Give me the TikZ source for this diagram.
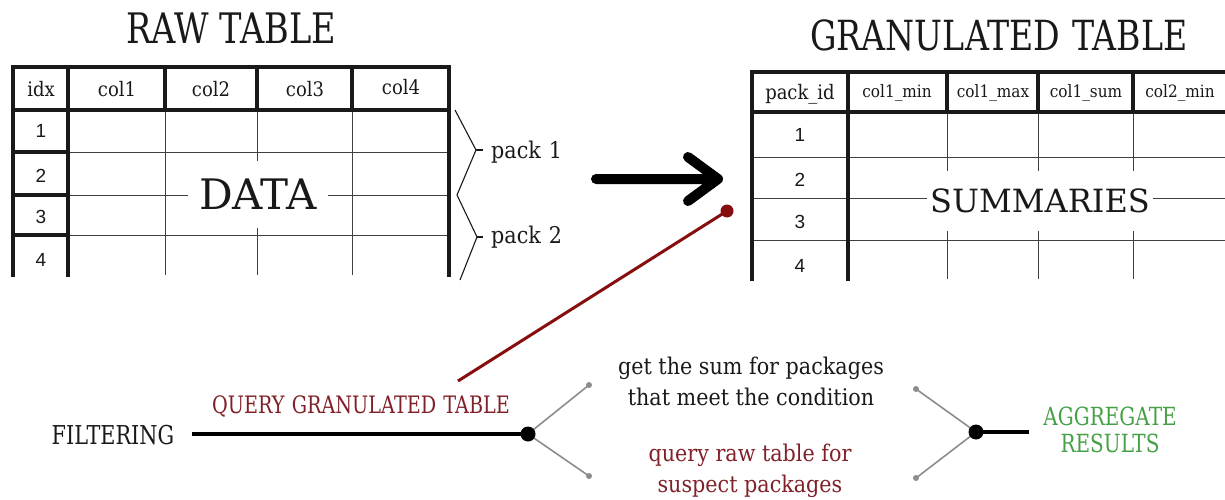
\documentclass[tikz,border=0pt]{standalone}
\usepackage{fontspec}
\setmainfont{DejaVu Serif}
\newfontfamily\bodyfont{DejaVu Serif}[FakeStretch=0.9]
\newfontfamily\capsfont{DejaVu Serif}[FakeStretch=0.8]
\newfontfamily\numfont{Liberation Sans}
\definecolor{qred}{RGB}{128,32,40}
\definecolor{lred}{RGB}{135,14,14}
\definecolor{agreen}{RGB}{70,160,70}
\definecolor{ink}{RGB}{25,25,25}
\definecolor{wire}{RGB}{140,140,140}
\tikzset{
  thickrule/.style={line width=4.2pt, line cap=rect, ink},
  thinrule/.style={line width=1pt, black!75},
  title/.style={font=\capsfont\fontsize{42}{46}\selectfont, inner sep=0pt, text=ink},
  hdr/.style={font=\bodyfont\fontsize{20}{24}\selectfont, anchor=base, inner sep=0pt, text=ink},
  shdr/.style={font=\bodyfont\fontsize{17}{20}\selectfont, anchor=base, inner sep=0pt, text=ink},
  num/.style={font=\numfont\fontsize{19}{21}\selectfont, anchor=base, inner sep=0pt, text=ink},
  body/.style={font=\bodyfont\fontsize{23}{31}\selectfont, align=center, inner sep=0pt, text=ink},
  caps/.style={font=\capsfont\fontsize{26}{27}\selectfont, align=center, inner sep=0pt},
  blank/.style={fill=white, inner sep=0pt, text=ink},
  brace/.style={line width=1.1pt, ink},
  wirelink/.style={line width=1.6pt, wire},
  enddot/.style={circle, fill=wire, inner sep=0pt, minimum size=6pt},
}
\begin{document}
\begin{tikzpicture}[x=1pt, y=-1pt]
\useasboundingbox (0,0) rectangle (1225,500);

% ---------- raw table ----------
\node[title] (rawtitle) at (231,28) {RAW TABLE};
% thin body grid
\foreach \yy in {152,195,235} \draw[thinrule] (68,\yy) -- (449,\yy);
\foreach \xx in {165,257,352} \draw[thinrule] (\xx,110) -- (\xx,275);
% label blanking the grid behind it
\node[blank, minimum width=140pt, minimum height=67pt,
      font=\fontsize{42}{44}\selectfont] (data) at (258,194) {DATA};
% heavy frame, header and index column
\draw[thickrule] (13,275) -- (13,67) -- (449,67) -- (449,275);
\draw[thickrule] (13,110) -- (449,110);
\draw[thickrule] (68,67) -- (68,275);
\foreach \xx in {165,257,352} \draw[thickrule] (\xx,67) -- (\xx,110);
\foreach \yy in {152,195,235} \draw[thickrule] (13,\yy) -- (68,\yy);
\node[hdr] (hidx) at (41,97) {idx};
\node[hdr] (hc1) at (117,97) {col1};
\node[hdr] (hc2) at (211,97) {col2};
\node[hdr] (hc3) at (305,97) {col3};
\node[hdr] (hc4) at (401,95) {col4};
\node[num] (r1) at (41,137) {1};
\node[num] (r2) at (41,182) {2};
\node[num] (r3) at (41,223) {3};
\node[num] (r4) at (41,266) {4};

% ---------- packs ----------
\coordinate (b1a) at (455,110);
\coordinate (b1t) at (476,150);
\coordinate (b1k) at (483,150);
\coordinate (b12) at (457,195);
\coordinate (b2t) at (477,237);
\coordinate (b2k) at (483,237);
\coordinate (b2b) at (460,280);
\draw[brace] (b1a) -- (b1t) -- (b12) -- (b2t) -- (b2b);
\draw[line width=2pt, ink] (b1t) -- (b1k);
\draw[line width=2pt, ink] (b2t) -- (b2k);
\node[body, anchor=base west] (pack1) at (491,158) {pack\hspace{0.35em}1};
\node[body, anchor=base west] (pack2) at (491,243) {pack\hspace{0.35em}2};

% ---------- transformation arrow ----------
\coordinate (arrs) at (596,179);
\coordinate (arre) at (718,179);
\coordinate (arru) at (688,157);
\coordinate (arrd) at (688,201);
\draw[line width=10pt, line cap=round, line join=round, black]
  (arrs) -- (arre) (arru) -- (arre) -- (arrd);

% ---------- granulated table ----------
\node[title, font=\capsfont\fontsize{41.5}{46}\selectfont] (grantitle) at (999,35) {GRANULATED\hspace{0.3em}TABLE};
\foreach \yy in {157,198,240} \draw[thinrule] (752,\yy) -- (1226,\yy);
\foreach \xx in {947,1038,1133} \draw[thinrule] (\xx,112) -- (\xx,279);
\node[blank, minimum width=226pt, minimum height=60pt,
      font=\fontsize{32}{34}\selectfont] (summ) at (1040,201) {SUMMARIES};
\draw[thickrule] (752,279) -- (752,72) -- (1228,72);
\draw[thickrule] (752,112) -- (1228,112);
\draw[thickrule] (848,72) -- (848,279);
\foreach \xx in {947,1038,1133} \draw[thickrule] (\xx,72) -- (\xx,112);
\node[hdr] (hpid) at (800,100) {pack\_id};
\node[shdr] (hmin) at (897,98) {col1\_min};
\node[shdr] (hmax) at (993,98) {col1\_max};
\node[shdr] (hsum) at (1086,98) {col1\_sum};
\node[shdr] (hmin2) at (1180,98) {col2\_min};
\node[num] (g1) at (800,141) {1};
\node[num] (g2) at (800,186) {2};
\node[num] (g3) at (800,228) {3};
\node[num] (g4) at (800,272) {4};

% ---------- query flow ----------
\coordinate (pin) at (727,211);
\coordinate (pinfoot) at (458,381);
\draw[line width=3pt, lred] (pin) -- (pinfoot);
\fill[lred] (pin) circle (6.5pt);

\node[caps, text=ink] (filter) at (113,435) {FILTERING};
\coordinate (split) at (528,434);
\coordinate (fstart) at (192,434);
\node[caps, text=qred, font=\capsfont\fontsize{24}{26}\selectfont] (qgt) at (361,407) {QUERY\hspace{0.3em}GRANULATED\hspace{0.3em}TABLE};

\node[enddot] (su) at (589,385) {};
\node[enddot] (sd) at (589,476) {};
\draw[wirelink] (split) -- (su.center);
\draw[wirelink] (split) -- (sd.center);
\draw[line width=4pt, black] (fstart) -- (split);
\fill[black] (split) circle (7.5pt);

\node[body] (sumtxt) at (751,381) {get the sum for packages\\that meet the condition};
\node[body, text=qred] (rawtxt) at (750,471) {query raw table for\\suspect packages};

\node[enddot] (mu) at (916,389) {};
\node[enddot] (md) at (916,478) {};
\coordinate (merge) at (976,432);
\coordinate (mout) at (1029,432);
\draw[wirelink] (mu.center) -- (merge);
\draw[wirelink] (md.center) -- (merge);
\draw[line width=4pt, black] (merge) -- (mout);
\fill[black] (merge) circle (7.5pt);
\node[caps, text=agreen, font=\capsfont\fontsize{25}{27}\selectfont] (agg) at (1110,430) {AGGREGATE\\RESULTS};
\end{tikzpicture}
\end{document}
